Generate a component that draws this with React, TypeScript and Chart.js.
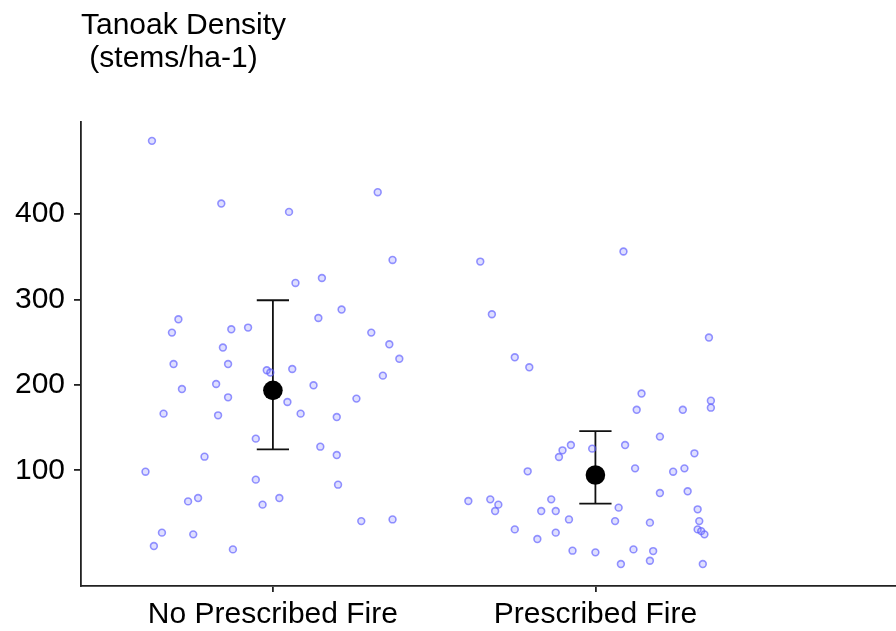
import React, { useEffect, useRef } from "react";
import { Chart, registerables } from "chart.js";

Chart.register(...registerables);

const categories = ["No Prescribed Fire", "Prescribed Fire"];
const titleLines = ["Tanoak Density", " (stems/ha-1)"];
const yTicks = [100, 200, 300, 400];

// jitter offsets (in category units) and values for each group
const noFireJitter = [
  -0.375, -0.16, -0.293, -0.313, -0.129, -0.077, -0.155, -0.308, -0.139, -0.019,
  -0.008, -0.282, -0.176, -0.139, -0.339, -0.17, -0.053, -0.212, -0.395, -0.053,
  -0.263, -0.232, -0.032, 0.02, -0.344, -0.247, -0.369, -0.124, 0.325, 0.05,
  0.371, 0.07, 0.152, 0.213, 0.141, 0.305, 0.361, 0.392, 0.06, 0.341,
  0.126, 0.045, 0.259, 0.086, 0.198, 0.147, 0.198, 0.202, 0.274, 0.371,
];
const noFireValues = [
  485.9, 412.5, 276.9, 261.3, 265.2, 267.2, 243.8, 224.5, 224.5, 217.2,
  214.5, 195.2, 201.1, 185.5, 166.4, 164.4, 137.1, 116.0, 98.4, 89.1,
  63.6, 67.5, 59.8, 67.5, 27.0, 25.0, 11.3, 7.4, 425.8, 402.7,
  346.4, 319.5, 325.3, 288.3, 278.4, 261.3, 247.6, 230.6, 218.7, 210.9,
  199.6, 180.0, 184.0, 166.4, 162.4, 127.7, 117.9, 83.2, 40.5, 42.5,
];
const fireJitter = [
  -0.357, -0.321, -0.25, -0.205, -0.394, -0.326, -0.301, -0.311, -0.25, -0.21,
  -0.18, -0.168, -0.137, -0.123, -0.123, -0.082, -0.113, -0.102, -0.076, -0.01,
  -0.071, 0.0, 0.072, 0.061, 0.079, 0.087, 0.352, 0.143, 0.358, 0.358,
  0.128, 0.271, 0.2, 0.092, 0.307, 0.123, 0.241, 0.276, 0.2, 0.286,
  0.317, 0.169, 0.322, 0.317, 0.328, 0.338, 0.118, 0.179, 0.169, 0.333,
];
const fireValues = [
  344.5, 282.8, 232.4, 220.7, 64.0, 66.0, 59.8, 52.3, 30.8, 98.8,
  19.5, 52.3, 66.0, 52.3, 27.0, 42.5, 115.6, 123.4, 129.6, 125.4,
  5.9, 3.9, 56.3, 40.5, -9.8, 356.3, 255.5, 189.9, 181.6, 173.4,
  170.9, 170.9, 139.5, 129.6, 119.9, 102.3, 98.4, 102.3, 73.4, 75.4,
  54.3, 38.7, 40.5, 30.8, 28.8, 25.0, 7.4, 5.4, -5.9, -9.8,
];

const meanValues = [193.7, 94.5];
const lowerValues = [124.6, 61.0];
const upperValues = [299.2, 146.0];

const capHalfWidth = 0.05;

const errorBarPlugin = {
  id: "errorBars",
  beforeDatasetsDraw(chart: any) {
    const { ctx, scales } = chart;
    const x = scales.x;
    const y = scales.y;
    ctx.save();
    ctx.strokeStyle = "#111";
    ctx.lineWidth = 1.8;
    categories.forEach((_, i) => {
      const c = i + 1;
      const cx = x.getPixelForValue(c);
      const xl = x.getPixelForValue(c - capHalfWidth);
      const xr = x.getPixelForValue(c + capHalfWidth);
      const yt = y.getPixelForValue(upperValues[i]);
      const yb = y.getPixelForValue(lowerValues[i]);
      ctx.beginPath();
      ctx.moveTo(cx, yt);
      ctx.lineTo(cx, yb);
      ctx.moveTo(xl, yt);
      ctx.lineTo(xr, yt);
      ctx.moveTo(xl, yb);
      ctx.lineTo(xr, yb);
      ctx.stroke();
    });
    ctx.restore();
  },
};

export default function App() {
  const ref = useRef<HTMLCanvasElement | null>(null);

  useEffect(() => {
    if (!ref.current) return;
    const jitterPoints = [
      ...noFireValues.map((v, i) => ({ x: 1 + noFireJitter[i], y: v })),
      ...fireValues.map((v, i) => ({ x: 2 + fireJitter[i], y: v })),
    ];
    const meanPoints = meanValues.map((v, i) => ({ x: i + 1, y: v }));
    const font = { family: "'Liberation Sans', Arial, sans-serif", size: 30, weight: "normal" as const };
    const chart = new Chart(ref.current, {
      type: "scatter",
      data: {
        datasets: [
          {
            data: jitterPoints,
            pointRadius: 3.4,
            pointBorderWidth: 1.6,
            pointBackgroundColor: "rgba(110,110,255,0.22)",
            pointBorderColor: "rgba(90,90,255,0.65)",
          },
          {
            data: meanPoints,
            pointRadius: 9.8,
            pointBorderWidth: 0,
            pointBackgroundColor: "#000",
            pointBorderColor: "#000",
          },
        ],
      },
      plugins: [errorBarPlugin],
      options: {
        responsive: false,
        animation: false,
        layout: { padding: 0, autoPadding: false },
        plugins: {
          legend: { display: false },
          tooltip: { enabled: false },
          title: {
            display: true,
            text: titleLines,
            align: "start",
            fullSize: false,
            color: "#000",
            font: { ...font, lineHeight: 1.1 },
            padding: { top: 9, bottom: 47 },
          },
        },
        scales: {
          x: {
            type: "linear",
            min: 0.405,
            max: 2.932,
            afterBuildTicks: (s: any) => {
              s.ticks = categories.map((_, i) => ({ value: i + 1 }));
            },
            afterFit: (s: any) => {
              s.height = 45;
              s.paddingRight = 0;
              s.paddingLeft = 0;
            },
            ticks: {
              autoSkip: false,
              maxRotation: 0,
              minRotation: 0,
              padding: 5,
              color: "#000",
              font,
              callback: (v: any) => categories[Math.round(Number(v)) - 1] ?? "",
            },
            grid: {
              drawOnChartArea: false,
              tickLength: 6,
              color: "#222",
              lineWidth: 1.8,
            },
            border: { display: true, color: "#222", width: 1.8 },
          },
          y: {
            type: "linear",
            min: -35.5,
            max: 508,
            afterBuildTicks: (s: any) => {
              s.ticks = yTicks.map((v) => ({ value: v }));
            },
            afterFit: (s: any) => {
              s.width = 81;
            },
            ticks: {
              padding: 9,
              color: "#000",
              font,
            },
            grid: {
              drawOnChartArea: false,
              tickLength: 7,
              color: "#222",
              lineWidth: 1.8,
            },
            border: { display: true, color: "#222", width: 1.8 },
          },
        },
      },
    });
    return () => chart.destroy();
  }, []);

  return (
    <div style={{ position: "absolute", left: 0, top: 0, width: 896, height: 631, background: "#fff" }}>
      <canvas ref={ref} width={896} height={631} style={{ display: "block" }} />
    </div>
  );
}
